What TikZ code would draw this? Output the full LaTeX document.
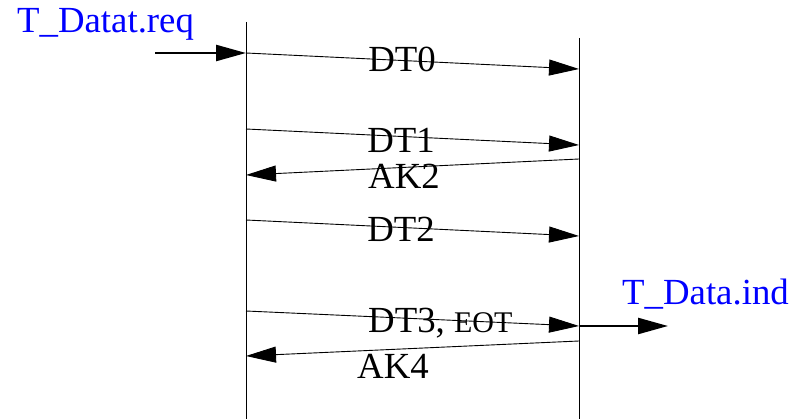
\documentclass[tikz,border=0pt]{standalone}
\usepackage{fontspec}
\setmainfont{Liberation Serif}
\usetikzlibrary{arrows.meta}

\begin{document}
\begin{tikzpicture}[x=1pt, y=-1pt, font=\fontsize{36.8}{40}\selectfont]
    \tikzset{ msg/.style={-{Triangle[length=30pt, width=16pt]}, line width=0.9pt},
              prim/.style={msg, line width=2.4pt},
              lbl/.style={anchor=base, inner sep=0pt},
              pname/.style={anchor=base west, inner sep=0pt, text=blue} }
    \useasboundingbox (0,0) rectangle (792,419);

    % lifelines
    \coordinate (senderTop) at (246,22);
    \coordinate (senderBot) at (246,419);
    \coordinate (receiverTop) at (579,38);
    \coordinate (receiverBot) at (579,419);
    \draw[line width=0.9pt] (senderTop) -- (senderBot);
    \draw[line width=0.9pt] (receiverTop) -- (receiverBot);

    % service primitives
    \node[pname] (req) at (17,33) {T\_Datat.req};
    \coordinate (reqStart) at (155,53);
    \coordinate (dt0Out) at (246,53);
    \draw[prim] (reqStart) -- (dt0Out);

    \node[pname] (ind) at (622,305) {T\_Data.ind};
    \coordinate (dt3In) at (579,326);
    \coordinate (indEnd) at (668,326);
    \draw[prim] (dt3In) -- (indEnd);

    % data and ack messages
    \coordinate (dt0In) at (579,69);
    \draw[msg] (dt0Out) -- (dt0In);
    \node[lbl] (dt0) at (402,72) {DT0};

    \coordinate (dt1Out) at (246,129);
    \coordinate (dt1In) at (579,145);
    \draw[msg] (dt1Out) -- (dt1In);
    \node[lbl] (dt1) at (401,153) {DT1};

    \coordinate (ak2Out) at (579,159);
    \coordinate (ak2In) at (246,175);
    \draw[msg] (ak2Out) -- (ak2In);
    \node[lbl] (ak2) at (404,189) {AK2};

    \coordinate (dt2Out) at (246,220);
    \coordinate (dt2In) at (579,236);
    \draw[msg] (dt2Out) -- (dt2In);
    \node[lbl] (dt2) at (401,242) {DT2};

    \coordinate (dt3Out) at (246,311);
    \draw[msg] (dt3Out) -- (dt3In);
    \node[lbl, anchor=base west] (dt3) at (368,333) {DT3, {\fontsize{30}{32}\selectfont EOT}};

    \coordinate (ak4Out) at (579,341);
    \coordinate (ak4In) at (246,356);
    \draw[msg] (ak4Out) -- (ak4In);
    \node[lbl, anchor=base west] (ak4) at (357,378) {AK4};
\end{tikzpicture}
\end{document}
